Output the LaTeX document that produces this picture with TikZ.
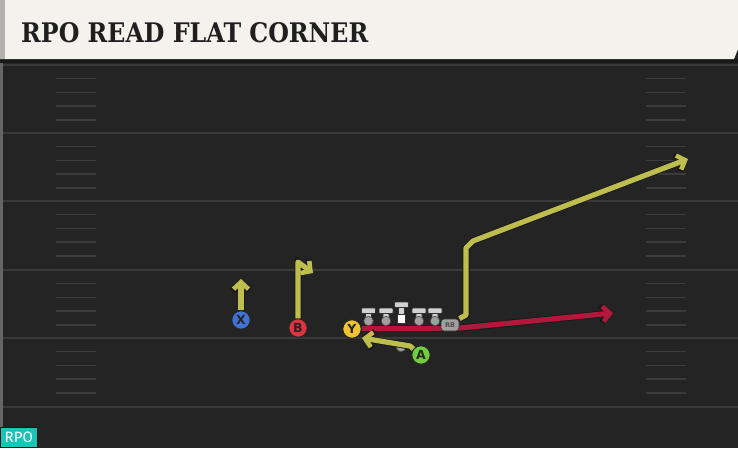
\documentclass[tikz,border=0pt]{standalone}
\usepackage{fontspec}
\setmainfont{DejaVu Serif}
\newfontfamily\labelfont{Fira Sans}
\newfontfamily\playerfont{DejaVu Sans}
\usetikzlibrary{arrows.meta}
\definecolor{fieldbg}{HTML}{242424}
\definecolor{headbg}{HTML}{F4F2EC}
\definecolor{yardline}{HTML}{3A3A3A}
\definecolor{hashc}{HTML}{3C3C3C}
\definecolor{routey}{HTML}{BDBE4E}
\definecolor{router}{HTML}{B2183C}
\definecolor{pblue}{HTML}{3F73D6}
\definecolor{pred}{HTML}{DB3340}
\definecolor{pyellow}{HTML}{F3C432}
\definecolor{pgreen}{HTML}{71CC3E}
\definecolor{teal}{HTML}{1CC4B8}
\definecolor{linegray}{HTML}{D2D2D2}
\definecolor{dotgray}{HTML}{A0A0A0}
\tikzset{
  player/.style={circle, draw=black!85, line width=1pt, minimum size=18.5pt, inner sep=0pt,
    font=\playerfont\bfseries\fontsize{12.5}{12.5}\selectfont, text=black!85},
  routeline/.style={line width=5.2pt, line join=round, line cap=butt,
    -{Straight Barb[length=7pt,width=15pt,line width=4.6pt]},
    preaction={draw=black!90, line width=7pt, -{Straight Barb[length=7.6pt,width=17pt,line width=6.4pt]}}},
  yroute/.style={routeline, draw=routey},
  rroute/.style={routeline, draw=router},
  hash/.style={draw=hashc, line width=1.5pt},
  yard/.style={draw=yardline, line width=1.8pt},
  lineman/.style={fill=linegray, draw=black!80, line width=0.8pt, rounded corners=0.8pt},
  ldot/.style={circle, fill=dotgray, draw=black!70, line width=0.6pt, minimum size=9.5pt, inner sep=0pt},
  rbbox/.style={fill=dotgray, draw=black!80, line width=0.8pt, rounded corners=3pt, minimum width=18pt, minimum height=12pt,
    inner sep=0pt, font=\playerfont\bfseries\fontsize{6.5}{6.5}\selectfont, text=black!70},
}
\begin{document}
\begin{tikzpicture}[x=1pt, y=-1pt]
\useasboundingbox (0,0) rectangle (738,448);
% field
\fill[fieldbg] (0,0) rectangle (738,448);
\fill[black!60] (0,59) rectangle (2.5,448);
\fill[black!90] (0,59) rectangle (738,63);
% yard lines
\foreach \yy in {65,133,201,270,338,407} {
  \draw[yard] (2.5,\yy) -- (738,\yy);
}
% hash marks
\foreach \yy in {65,133,201,270,338} {
  \foreach \k in {1,2,3,4} {
    \draw[hash] (56,{\yy+13.7*\k}) -- (96,{\yy+13.7*\k});
    \draw[hash] (646,{\yy+13.7*\k}) -- (686,{\yy+13.7*\k});
  }
}
% header
\fill[headbg] (0,0) -- (738,0) -- (738,49) -- (734,59) -- (0,59) -- cycle;
\fill[black!30] (0,0) rectangle (5,59);
\node[anchor=base west, inner sep=0pt, text=black!88] (title) at (21,42)
  {\resizebox{347pt}{20pt}{\bfseries RPO READ FLAT CORNER}};
% RPO tag
\node[fill=teal, draw=black!90, line width=0.6pt, anchor=south west, minimum width=37pt, minimum height=20pt,
  inner sep=0pt, text=white, font=\labelfont\fontsize{15}{15}\selectfont] (tag) at (0,448) {RPO};
% players
\node[player, fill=pblue] (X) at (241,320) {X};
\node[player, fill=pred] (B) at (298,328) {B};
\node[player, fill=pyellow] (Y) at (352,329) {Y};
\node[player, fill=pgreen] (A) at (421,355) {A};
\node[ldot] (QB) at (401,347) {};
\node[rbbox] (RB) at (450,325) {RB};
% route coordinates
\coordinate (xEnd) at (241,279);
\coordinate (bTop) at (298,262);
\coordinate (bEnd) at (313,273);
\coordinate (aBend) at (410,346);
\coordinate (aEnd) at (362,338);
\coordinate (rbA) at (466,315);
\coordinate (rbB) at (466,248);
\coordinate (rbC) at (473,241);
\coordinate (rbEnd) at (688,159);
\coordinate (redA) at (455,328.5);
\coordinate (redEnd) at (613,313);
% block line (red)
\draw[rroute] (Y.east) ++(0,-0.5) -- (redA) -- (redEnd);
% routes
\draw[yroute] (X) -- (xEnd);
\draw[yroute] (B) -- (bTop) -- (bEnd);
\draw[yroute] (A) -- (aBend) -- (aEnd);
\draw[yroute] (RB.north east) -- (rbA) -- (rbB) -- (rbC) -- (rbEnd);
% redraw players over routes
\node[player, fill=pyellow] at (Y) {Y};
\node[rbbox] at (RB) {RB};
% linemen
\foreach \lx/\nm in {368.5/LT,386/LG,419/RG,435/RT} {
  \path[lineman] (\lx-7,308) rectangle (\lx+7,313.5);
  \path[lineman] (\lx-3,313.5) rectangle (\lx+3,320);
  \node[ldot] (\nm) at (\lx,321) {};
}
\path[lineman] (394.5,302) rectangle (408.5,307.5);
\path[lineman] (398.5,307.5) rectangle (404.5,314.5);
\node[fill=white, draw=black!80, line width=0.8pt, minimum size=8.5pt, inner sep=0pt] (C) at (401.5,319) {};
\end{tikzpicture}
\end{document}
